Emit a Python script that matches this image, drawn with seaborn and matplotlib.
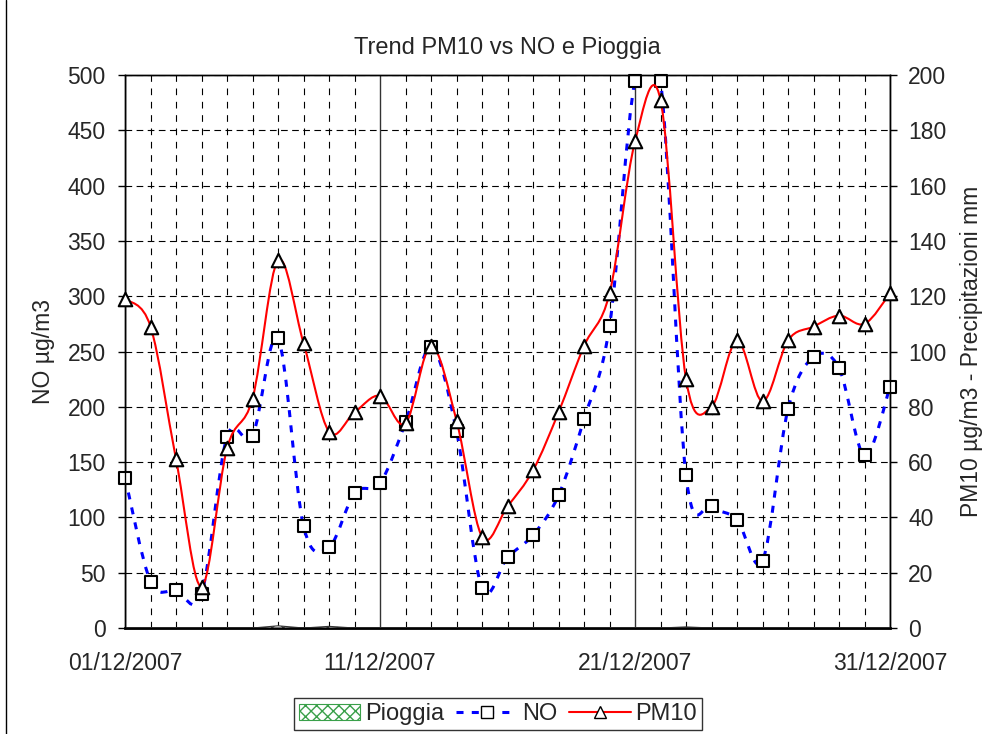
import numpy as np
import pandas as pd
import matplotlib
matplotlib.use("Agg")
import matplotlib.pyplot as plt
import matplotlib.dates as mdates
from matplotlib.path import Path
from matplotlib.patches import PathPatch, Patch
from matplotlib.lines import Line2D
import seaborn as sns

# dati giornalieri dicembre 2007
giorni = pd.date_range("2007-12-01", "2007-12-31", freq="D")
no = [136, 42, 34, 31, 173, 174, 262, 92, 73, 122, 131, 186, 254, 178, 36, 64,
      84, 120, 189, 273, 495, 495, 138, 110, 98, 61, 198, 245, 235, 156, 218]
pm10 = [119, 109, 61, 15, 65, 83, 133, 103, 71, 78, 84, 74, 102, 75, 33, 44,
        57, 78, 102, 121, 176, 191, 90, 80, 104, 82, 104, 109, 113, 110, 121]
pioggia = [0, 0, 0, 0, 0, 0, 0.8, 0, 0.6, 0, 0, 0, 0, 0, 0, 0,
           0, 0, 0, 0, 0, 0, 0.4, 0, 0, 0, 0, 0, 0, 0, 0]

sns.set_style("white")
plt.rcParams["font.family"] = ["Liberation Sans", "DejaVu Sans"]
plt.rcParams["hatch.color"] = "#3aa04a"
plt.rcParams["hatch.linewidth"] = 1.0

df = pd.DataFrame({"data": giorni, "NO": no, "PM10": pm10, "Pioggia": pioggia})
xnum = mdates.date2num(giorni)


def curva(ax, x, y, **kw):
    # linea smussata tipo Excel (bezier tra i punti)
    p = np.column_stack([np.asarray(x, float), np.asarray(y, float)])
    ext = np.vstack([p[0], p, p[-1]])
    verts = [p[0]]
    codes = [Path.MOVETO]
    for i in range(len(p) - 1):
        c1 = p[i] + (ext[i + 2] - ext[i]) / 6
        c2 = p[i + 1] - (ext[i + 3] - ext[i + 1]) / 6
        verts += [c1, c2, p[i + 1]]
        codes += [Path.CURVE4] * 3
    ax.add_patch(PathPatch(Path(verts, codes), fill=False, **kw))


fig = plt.figure(figsize=(9.98, 7.34), dpi=100)
ax = fig.add_axes([0.1253, 0.1444, 0.7665, 0.7534])
ax2 = ax.twinx()

# NO asse sinistro
curva(ax, xnum, df["NO"], edgecolor="blue", lw=2.2, linestyle=(0, (2.3, 2.7)), zorder=2)
sns.scatterplot(data=df, x="data", y="NO", ax=ax, marker="s", s=75, color="white",
                edgecolor="black", linewidth=1.5, zorder=3, clip_on=False)

# Pioggia e PM10 asse destro
ax2.fill_between(xnum, 0, df["Pioggia"], facecolor="white", edgecolor="#333333",
                 hatch="xxx", lw=0.8, zorder=1)
curva(ax2, xnum, df["PM10"], edgecolor="red", lw=1.5, zorder=2)
sns.scatterplot(data=df, x="data", y="PM10", ax=ax2, marker="^", s=95, color="white",
                edgecolor="black", linewidth=1.5, zorder=3, clip_on=False)

ax.set_xlim(giorni[0], giorni[-1])
ax.set_ylim(0, 500)
ax.set_yticks(range(0, 501, 50))
ax2.set_ylim(0, 200)
ax2.set_yticks(range(0, 201, 20))

ax.xaxis.set_major_locator(mdates.DayLocator(bymonthday=[1, 11, 21, 31]))
ax.xaxis.set_minor_locator(mdates.DayLocator())
ax.xaxis.set_major_formatter(mdates.DateFormatter("%d/%m/%Y"))

ax.grid(which="major", axis="x", color="#333333", lw=1, ls="-")
ax.grid(which="minor", axis="x", color="black", lw=0.8, ls=(0, (6, 6)))
ax.grid(which="major", axis="y", color="black", lw=0.8, ls=(0, (6, 4)))
ax.set_axisbelow(True)

ax.tick_params(axis="x", which="major", length=5, width=1, color="black", pad=12, labelsize=16.5)
ax.tick_params(axis="x", which="minor", length=0)
ax.tick_params(axis="y", length=5, width=1, color="black", pad=9, labelsize=16.5, left=True)
ax2.tick_params(axis="y", length=5, width=1, color="black", pad=8, labelsize=16.5, right=True)

for a in (ax, ax2):
    for s in a.spines.values():
        s.set_color("black")
        s.set_linewidth(1)
ax.spines["bottom"].set_linewidth(2)

ax.set_xlabel("")
ax.set_ylabel("NO µg/m3", fontsize=16.5, labelpad=9)
ax2.set_ylabel("PM10 µg/m3 - Precipitazioni mm", fontsize=16.5, labelpad=10)
ax.set_title("Trend PM10 vs NO e Pioggia", fontsize=17, pad=15)

h1 = Patch(facecolor="white", edgecolor="#3aa04a", hatch="xxx", lw=0.8)
h2 = Line2D([], [], color="blue", lw=2.2, ls=(0, (2.3, 2.7)), marker="s",
            mfc="white", mec="black", ms=8)
h3 = Line2D([], [], color="red", lw=1.5, marker="^", mfc="white", mec="black", ms=8)
leg = fig.legend([h1, h2, h3], ["Pioggia", "NO", "PM10"], loc="center",
                 bbox_to_anchor=(0.499, 0.027), ncol=3, frameon=True, fancybox=False,
                 edgecolor="black", fontsize=17, handlelength=2.6, handletextpad=0.2,
                 columnspacing=0.5, borderpad=0.2)
leg.get_frame().set_linewidth(1)

# bordo sinistro dell'area grafico
fig.add_artist(Line2D([0.006, 0.006], [0, 1], transform=fig.transFigure,
                      color="black", lw=1))

fig.savefig("out.png", dpi=100)
